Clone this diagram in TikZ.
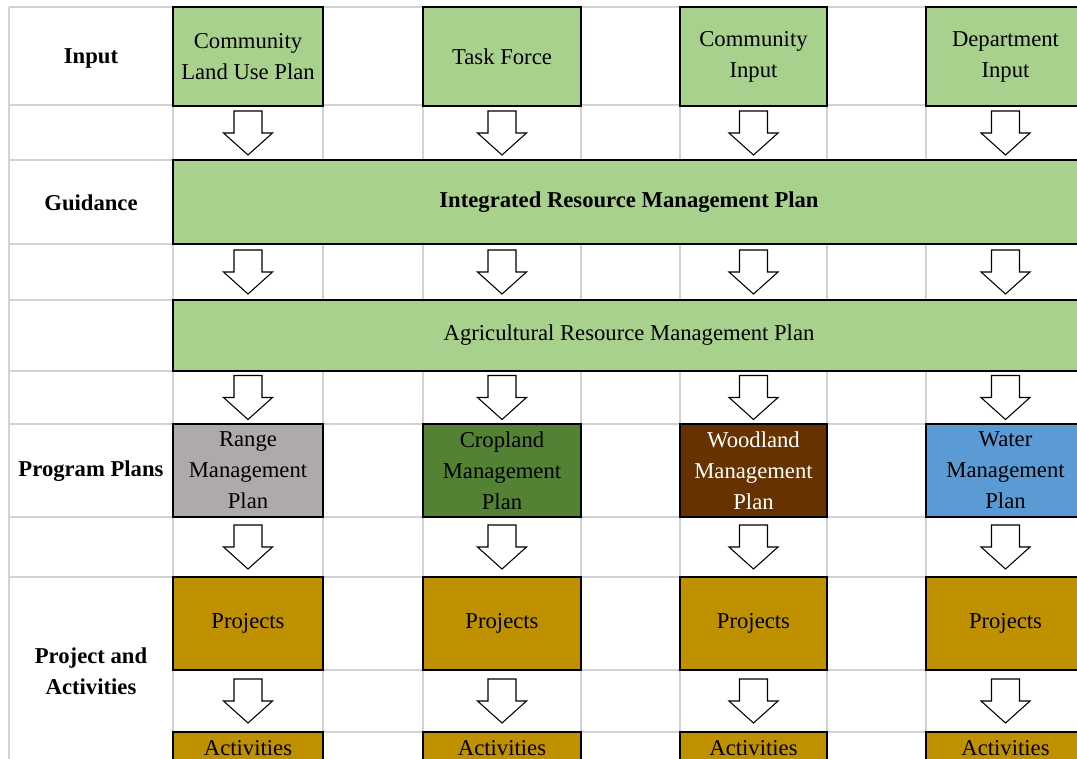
\documentclass[tikz,border=0pt]{standalone}
\usepackage{fontspec}
\setmainfont{Liberation Serif}
\usepackage{xcolor}
\usetikzlibrary{positioning,calc}
\definecolor{inputgreen}{RGB}{169,209,142}
\definecolor{rangegray}{RGB}{174,170,170}
\definecolor{cropgreen}{RGB}{84,130,53}
\definecolor{woodbrown}{RGB}{102,51,0}
\definecolor{waterblue}{RGB}{91,155,213}
\definecolor{projgold}{RGB}{191,144,0}
\definecolor{gridgray}{RGB}{210,210,210}

\tikzset{
  planbox/.style={draw, line width=1.2pt, inner sep=0pt, align=center,
    font=\fontsize{17}{23.25}\selectfont},
  rowlabel/.style={align=center, font=\fontsize{17}{23.25}\selectfont\bfseries},
  gridline/.style={gridgray, line width=1pt},
  downarrow/.pic={
    \draw[fill=white, line width=0.8pt] (-14,-22) -- (14,-22) -- (14,0) -- (24.5,0)
      -- (0,22) -- (-24.5,0) -- (-14,0) -- cycle;
  }
}

\begin{document}
\begin{tikzpicture}[x=0.75pt, y=-0.75pt]
        \useasboundingbox (0,0) rectangle (1077,759);
        \clip (0,0) rectangle (1077,759);

        % sheet grid
        \foreach \gx in {9,173,323,423,581,680,827,926}
          \draw[gridline] (\gx,7) -- (\gx,759);
        \foreach \gy in {7,105,160,244,300,371,424,517,577}
          \draw[gridline] (9,\gy) -- (1077,\gy);
        \foreach \gy in {670,732}
          \draw[gridline] (173,\gy) -- (1077,\gy);

        % row labels
        \node[rowlabel] (lblinput) at (91,58) {Input};
        \node[rowlabel] (lblguide) at (91,203) {Guidance};
        \node[rowlabel] (lblplans) at (91,471) {Program Plans};
        \node[rowlabel] (lblproj) at (91,671) {Project and\\Activities};

        % input
        \node[planbox, fill=inputgreen, minimum width=112.5pt, minimum height=74.25pt] (in1) at (248,56.5) {Community\\Land Use Plan};
        \node[planbox, fill=inputgreen, minimum width=118.5pt, minimum height=74.25pt] (in2) at (502,56.5) {Task Force};
        \node[planbox, fill=inputgreen, minimum width=110.25pt, minimum height=74.25pt] (in3) at (753.5,56.5) {Community\\Input};
        \node[planbox, fill=inputgreen, minimum width=119.25pt, minimum height=74.25pt] (in4) at (1005.5,56.5) {Department\\Input};

        % guidance
        \node[planbox, fill=inputgreen, minimum width=684pt, minimum height=63pt, font=\fontsize{17}{23.25}\selectfont\bfseries] (irmp) at (629,202) {Integrated Resource Management Plan};
        \node[planbox, fill=inputgreen, minimum width=684pt, minimum height=53.25pt] (arm) at (629,335.5) {Agricultural Resource Management Plan};

        % program plans
        \node[planbox, fill=rangegray, minimum width=112.5pt, minimum height=69.75pt] (pl1) at (248,470.5) {Range\\Management\\Plan};
        \node[planbox, fill=cropgreen, minimum width=118.5pt, minimum height=69.75pt] (pl2) at (502,470.5) {Cropland\\Management\\Plan};
        \node[planbox, fill=woodbrown, text=white, minimum width=110.25pt, minimum height=69.75pt] (pl3) at (753.5,470.5) {Woodland\\Management\\Plan};
        \node[planbox, fill=waterblue, minimum width=119.25pt, minimum height=69.75pt] (pl4) at (1005.5,470.5) {Water\\Management\\Plan};

        % projects
        \node[planbox, fill=projgold, minimum width=112.5pt, minimum height=69.75pt] (pj1) at (248,623.5) {Projects};
        \node[planbox, fill=projgold, minimum width=118.5pt, minimum height=69.75pt] (pj2) at (502,623.5) {Projects};
        \node[planbox, fill=projgold, minimum width=110.25pt, minimum height=69.75pt] (pj3) at (753.5,623.5) {Projects};
        \node[planbox, fill=projgold, minimum width=119.25pt, minimum height=69.75pt] (pj4) at (1005.5,623.5) {Projects};

        % activities
        \node[planbox, fill=projgold, minimum width=112.5pt, minimum height=24pt] (ac1) at (248,748) {Activities};
        \node[planbox, fill=projgold, minimum width=118.5pt, minimum height=24pt] (ac2) at (502,748) {Activities};
        \node[planbox, fill=projgold, minimum width=110.25pt, minimum height=24pt] (ac3) at (753.5,748) {Activities};
        \node[planbox, fill=projgold, minimum width=119.25pt, minimum height=24pt] (ac4) at (1005.5,748) {Activities};

        % block arrows between rows
        \foreach \i in {1,...,4} {
          \pic at ($(in\i.south)!.5!(in\i.south |- irmp.north)$) {downarrow};
          \pic at ($(in\i |- irmp.south)!.5!(in\i |- arm.north)$) {downarrow};
          \pic at ($(pl\i |- arm.south)!.5!(pl\i.north)$) {downarrow};
          \pic at ($(pl\i.south)!.5!(pj\i.north)$) {downarrow};
          \pic at ($(pj\i.south)!.5!(ac\i.north)$) {downarrow};
        }
\end{tikzpicture}
\end{document}
